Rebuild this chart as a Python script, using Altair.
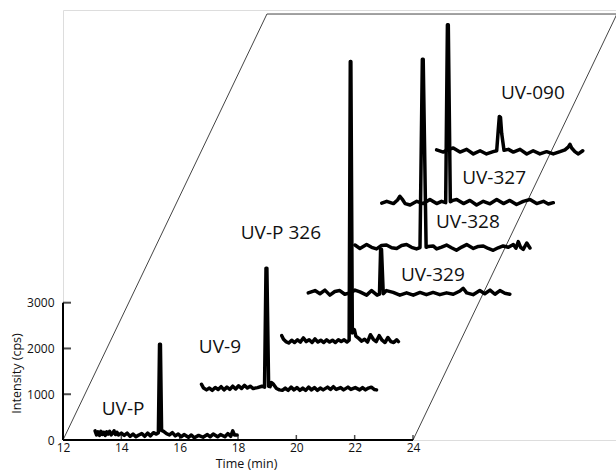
import altair as alt
import pandas as pd

# ---------------- data (front trace first) ----------------
series_names = ["UV-P", "UV-9", "UV-P 326", "UV-329", "UV-328", "UV-327", "UV-090"]

uvp_t = [13.10, 13.15, 13.20, 13.25, 13.30, 13.35, 13.40, 13.45, 13.50, 13.55, 13.60, 13.65, 13.70, 13.75, 13.80, 13.85, 13.90,
         14.00, 14.10, 14.20, 14.30, 14.40, 14.50, 14.60, 14.70, 14.80, 14.90, 15.00, 15.10, 15.20, 15.27,
         15.31, 15.34,
         15.38, 15.45, 15.55, 15.65, 15.75, 15.85, 15.95, 16.05, 16.15,
         16.30, 16.40, 16.50, 16.65, 16.80, 16.95, 17.05, 17.15, 17.30, 17.40, 17.55, 17.65, 17.75, 17.82, 17.88, 17.97]
uvp_i = [200, 110, 180, 100, 190, 120, 170, 100, 180, 130, 190, 110, 150, 200, 120, 170, 110,
         150, 100, 150, 80, 130, 70, 110, 140, 80, 150, 90, 160, 130, 160,
         2090, 2090,
         210, 190, 140, 110, 160, 90, 130, 70, 120,
         60, 110, 50, 100, 60, 120, 70, 130, 70, 120, 70, 140, 80, 200, 110, 110]

uv9_t = [15.98, 16.05, 16.15, 16.25, 16.35, 16.45, 16.55, 16.65, 16.75, 16.85, 16.95, 17.05, 17.15, 17.25, 17.35, 17.45, 17.55, 17.65, 17.75,
         17.90, 18.05, 18.14,
         18.19, 18.22,
         18.28, 18.33, 18.38, 18.45,
         18.55, 18.65, 18.75, 18.85, 18.95, 19.05, 19.15, 19.25, 19.35, 19.45, 19.55, 19.65, 19.75, 19.85, 19.95,
         20.05, 20.15,
         20.30, 20.40, 20.50, 20.60, 20.75, 20.85, 21.00, 21.10, 21.25, 21.40, 21.50, 21.60, 21.70, 21.80, 21.90, 21.98]
uv9_i = [190, 110, 70, 110, 60, 120, 80, 140, 70, 130, 80, 150, 90, 160, 100, 170, 110, 150, 100,
         120, 150, 130,
         2730, 2730,
         150, 140, 230, 190,
         100, 70, 60, 110, 60, 130, 70, 120, 60, 110, 60, 130, 70, 120, 60,
         110, 70,
         130, 80, 140, 80, 120, 70, 130, 80, 120, 70, 120, 70, 110, 130, 80, 70]

uvp326_t = [17.96, 18.02,
            18.10, 18.20, 18.30, 18.40, 18.50, 18.60, 18.70, 18.80, 18.90, 19.00, 19.10, 19.20, 19.30, 19.40, 19.50, 19.60, 19.70, 19.80, 19.90, 20.00, 20.10, 20.20,
            20.27,
            20.31, 20.33,
            20.38, 20.45, 20.50,
            20.60, 20.70, 20.80, 20.90, 21.00, 21.10, 21.20, 21.30, 21.40, 21.50, 21.60, 21.70, 21.80, 21.90,
            21.96]
uvp326_i = [230, 150,
            100, 70, 130, 80, 140, 90, 180, 100, 140, 80, 160, 90, 130, 80, 140, 90, 130, 80, 140, 100, 140, 90,
            130,
            6220, 6220,
            290, 360, 220,
            170, 110, 150, 90, 250, 150, 100, 230, 130, 80, 190, 100, 80, 140,
            100]

uv329_t = [18.10, 18.33, 18.50, 18.67, 18.84, 19.01, 19.18, 19.35, 19.53, 19.70, 19.87, 20.10, 20.27, 20.46, 20.54,
           20.58, 20.61,
           20.67, 20.78, 21.01, 21.24, 21.47, 21.70, 21.93, 22.15, 22.38, 22.61, 22.84, 23.07, 23.30, 23.41, 23.53, 23.75,
           23.98, 24.15, 24.33, 24.50, 24.67, 24.84, 25.01]
uv329_i = [140, 190, 120, 200, 90, 170, 190, 110, 140, 200, 160, 90, 190, 90, 110,
           1090, 1090,
           120, 190, 150, 90, 140, 90, 150, 100, 150, 100, 140, 110, 180, 240, 140, 100,
           190, 120, 200, 110, 190, 130, 110]

uv328_t = [18.93, 19.10, 19.33, 19.50, 19.67, 19.84, 20.01, 20.19, 20.36, 20.53, 20.70, 20.87, 21.04, 21.16,
           21.24, 21.27,
           21.37, 21.44, 21.61, 21.73, 21.90, 22.07, 22.24, 22.41, 22.59, 22.76, 22.99, 23.16, 23.33, 23.50, 23.67, 23.84,
           24.01, 24.19, 24.36, 24.45, 24.53, 24.61, 24.70, 24.82, 24.93]
uv328_i = [160, 85, 170, 110, 75, 150, 160, 100, 85, 150, 170, 110, 75, 105,
           4220, 4220,
           110, 130, 140, 75, 115, 160, 100, 45, 115, 170, 85, 130, 140, 85, 45, 100,
           140, 110, 170, 90, 235, 110, 65, 205, 95]

uv327_t = [19.08, 19.25, 19.48, 19.62, 19.70, 19.80, 19.88, 20.05, 20.28, 20.50, 20.73, 20.96, 21.13, 21.27,
           21.33, 21.36,
           21.43, 21.51, 21.65, 21.88, 22.10, 22.33, 22.56, 22.79, 23.02, 23.25, 23.47, 23.70, 23.93, 24.16, 24.39, 24.62,
           24.79, 24.96]
uv327_i = [50, 90, 40, 120, 200, 120, 40, 10, 90, 40, 130, 40, 90, 60,
           3950, 3950,
           80, 110, 130, 40, 110, 10, 90, 35, 130, 40, 110, 20, 90, 130, 40, 90,
           30, 60]

uv090_t = [20.19, 20.42, 20.59, 20.76, 20.99, 21.22, 21.45, 21.68, 21.90, 22.13, 22.25,
           22.30, 22.34, 22.38, 22.42,
           22.50, 22.65, 22.82, 23.05, 23.28, 23.50, 23.73, 23.96, 24.19, 24.42, 24.59, 24.70, 24.76, 24.82, 24.93, 25.05, 25.20]
uv090_i = [190, 140, 200, 230, 140, 200, 100, 170, 100, 150, 170,
           600, 920, 900, 550,
           180, 200, 140, 200, 100, 170, 100, 150, 100, 150, 190, 250, 310, 230, 150, 100, 170]

trace_times = [uvp_t, uv9_t, uvp326_t, uv329_t, uv328_t, uv327_t, uv090_t]
trace_vals = [uvp_i, uv9_i, uvp326_i, uv329_i, uv328_i, uv327_i, uv090_i]

# label anchors (in each trace's own time / intensity)
label_t = [14.06, 16.61, 17.93, 22.37, 22.80, 22.93, 23.49]
label_i = [677, 1007, 2473, 530, 663, 599, 1431]

x_ticks = [12, 14, 16, 18, 20, 22, 24]
y_ticks = [0, 1000, 2000, 3000]

# ---------------- presentation constants ----------------
DEPTH_DT = 0.770     # min shift per trace (oblique depth axis)
DEPTH_DI = 1025      # cps shift per trace
FRAME_DEPTH = 9.08   # depth of the frame in trace steps
FONT = "Open Sans"

rows = []
for k, (name, ts, vs) in enumerate(zip(series_names, trace_times, trace_vals)):
    assert len(ts) == len(vs), name
    for j, (t, v) in enumerate(zip(ts, vs)):
        rows.append({"series": name, "k": k, "t": t, "i": v, "o": j})
traces = pd.DataFrame(rows)

labels = pd.DataFrame({"series": series_names, "k": list(range(len(series_names))),
                       "t": label_t, "i": label_i})

frame = pd.DataFrame({"t": [12, 12, 24, 24], "i": [0, 0, 0, 0],
                      "k": [0, FRAME_DEPTH, FRAME_DEPTH, 0], "o": [0, 1, 2, 3]})

axis_x = pd.DataFrame({"x": [12], "x2": [24], "y": [0]})
axis_y = pd.DataFrame({"x": [12], "y": [0], "y2": [3000]})
xt = pd.DataFrame({"x": x_ticks, "y": [0] * len(x_ticks)})
yt = pd.DataFrame({"x": [12] * len(y_ticks), "y": y_ticks})

xs = alt.Scale(domain=[12, 30.96], nice=False, zero=False)
ys = alt.Scale(domain=[0, 9395], nice=False, zero=False)

xaxis = alt.Axis(values=x_ticks, domain=False, ticks=False, tickSize=0, grid=False,
                 labelFlush=False, labelPadding=2, labelFont=FONT, labelFontSize=12,
                 labelColor="#111", format="d",
                 title="Time (min)", titleFont=FONT, titleFontSize=12.5, titleFontWeight="normal",
                 titleColor="#111", titleX=183, titleY=23, titleBaseline="middle")
yaxis = alt.Axis(values=y_ticks, domain=False, ticks=False, tickSize=0, grid=False,
                 labelFlush=False, labelPadding=9, labelFont=FONT, labelFontSize=12,
                 labelColor="#111", format="d",
                 title="Intensity (cps)", titleFont=FONT, titleFontSize=12.5, titleFontWeight="normal",
                 titleColor="#111", titleX=-40, titleY=363, titleAngle=-90, titleBaseline="bottom")


def depth_calc(ch):
    return ch.transform_calculate(
        xd=f"datum.t + datum.k * {DEPTH_DT}",
        yd=f"datum.i + datum.k * {DEPTH_DI}",
    )


frame_layer = depth_calc(alt.Chart(frame)).mark_line(color="#444", strokeWidth=1, clip=False).encode(
    x=alt.X("xd:Q", scale=xs, axis=xaxis),
    y=alt.Y("yd:Q", scale=ys, axis=yaxis),
    order="o:Q",
)

ax_x = alt.Chart(axis_x).mark_rule(color="black", strokeWidth=2).encode(
    x=alt.X("x:Q", scale=xs, axis=xaxis), x2="x2:Q", y=alt.Y("y:Q", scale=ys, axis=yaxis))
ax_y = alt.Chart(axis_y).mark_rule(color="black", strokeWidth=2).encode(
    x=alt.X("x:Q", scale=xs, axis=xaxis), y=alt.Y("y:Q", scale=ys, axis=yaxis), y2="y2:Q")

xtick_layer = alt.Chart(xt).mark_tick(orient="vertical", color="black", size=5, thickness=1.5, yOffset=-2.5).encode(
    x=alt.X("x:Q", scale=xs, axis=xaxis), y=alt.Y("y:Q", scale=ys, axis=yaxis))
ytick_layer = alt.Chart(yt).mark_tick(orient="horizontal", color="black", size=8, thickness=2, xOffset=4).encode(
    x=alt.X("x:Q", scale=xs, axis=xaxis), y=alt.Y("y:Q", scale=ys, axis=yaxis))

trace_layer = depth_calc(alt.Chart(traces)).mark_line(
    color="black", strokeWidth=3.5, strokeJoin="round", strokeCap="round", clip=False
).encode(
    x=alt.X("xd:Q", scale=xs, axis=xaxis),
    y=alt.Y("yd:Q", scale=ys, axis=yaxis),
    detail="series:N",
    order="o:Q",
)

label_layer = depth_calc(alt.Chart(labels)).mark_text(
    font=FONT, fontSize=19, color="#111", align="center", baseline="middle"
).encode(
    x=alt.X("xd:Q", scale=xs, axis=xaxis),
    y=alt.Y("yd:Q", scale=ys, axis=yaxis),
    text="series:N",
)

chart = alt.layer(frame_layer, ax_x, ax_y, xtick_layer, ytick_layer, trace_layer, label_layer).properties(
    width=553, height=430,
    autosize=alt.AutoSizeParams(type="none"),
    padding={"left": 63, "top": 10, "right": 0, "bottom": 30},
).configure_view(stroke=None).configure(background="white")

chart.save("out.html", embed_options={"renderer": "svg", "actions": False})
